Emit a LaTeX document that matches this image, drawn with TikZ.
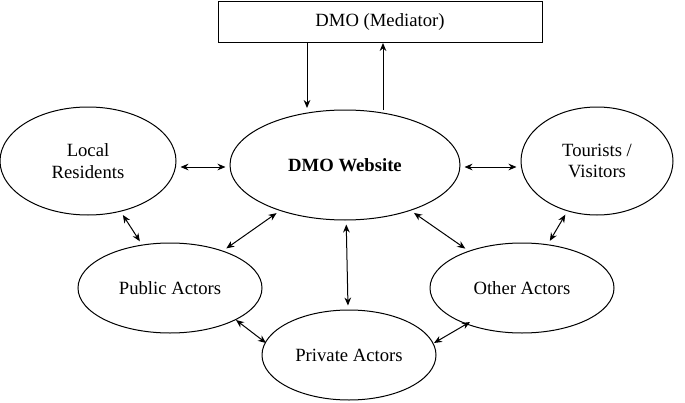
\documentclass[tikz,border=0pt]{standalone}
\usepackage{fontspec}
\setmainfont{Liberation Serif}
\usetikzlibrary{shapes.geometric,arrows.meta}
\tikzset{every picture/.style={line width=0.75pt}}
\tikzset{
  actor/.style={draw,ellipse,inner sep=0pt,font=\fontsize{14}{16}\selectfont,align=center},
  link/.style={{Stealth[length=6pt,width=5pt]}-{Stealth[length=6pt,width=5pt]},shorten <=3pt,shorten >=3pt},
  oneway/.style={-{Stealth[length=6pt,width=5pt]}}
}
\begin{document}
\begin{tikzpicture}[x=0.75pt,y=0.75pt,yscale=-1,xscale=1]
        \useasboundingbox (0,0) rectangle (685,403);

        % Mediator box
        \node (dmo) [draw,minimum width=324*0.75pt,minimum height=41*0.75pt,inner sep=0pt,font=\fontsize{14}{16}\selectfont] at (380,22.5) {DMO (Mediator)};

        % Ellipses
        \node (web) [actor,minimum width=230*0.75pt,minimum height=110*0.75pt,font=\fontsize{14}{16}\selectfont\bfseries] at (345,165) {DMO Website};
        \node (loc) [actor,minimum width=176*0.75pt,minimum height=108*0.75pt] at (88,161) {Local\\Residents};
        \node (tour) [actor,minimum width=152*0.75pt,minimum height=108*0.75pt] at (597,161) {Tourists /\\Visitors};
        \node (pub) [actor,minimum width=184*0.75pt,minimum height=90*0.75pt] at (170,288) {Public Actors};
        \node (oth) [actor,minimum width=184*0.75pt,minimum height=90*0.75pt] at (522,288) {Other Actors};
        \node (priv) [actor,minimum width=174*0.75pt,minimum height=90*0.75pt] at (349,355) {Private Actors};

        % Mediator arrows
        \coordinate (d1) at (307,43);
        \coordinate (w1) at (307,108);
        \coordinate (d2) at (383,43);
        \coordinate (w2) at (383,110);
        \draw [oneway] (d1) -- (w1);
        \draw [oneway] (w2) -- (d2);

        % bottom link ends
        \coordinate (p1) at (236,320);
        \coordinate (p2) at (266,343);
        \coordinate (o1) at (434,343);
        \coordinate (o2) at (470,322);

        % Links
        \draw [link] (loc.east |- 0,167) -- (web.west |- 0,167);
        \draw [link] (web.east |- 0,167) -- (tour.west |- 0,167);
        \draw [link] (loc) -- (pub);
        \draw [link] (web) -- (pub);
        \draw [link] (web) -- (priv);
        \draw [link] (web) -- (oth);
        \draw [link] (tour) -- (oth);
        \draw [link,shorten <=0pt,shorten >=0pt] (p1) -- (p2);
        \draw [link,shorten <=0pt,shorten >=0pt] (o1) -- (o2);

\end{tikzpicture}
\end{document}
